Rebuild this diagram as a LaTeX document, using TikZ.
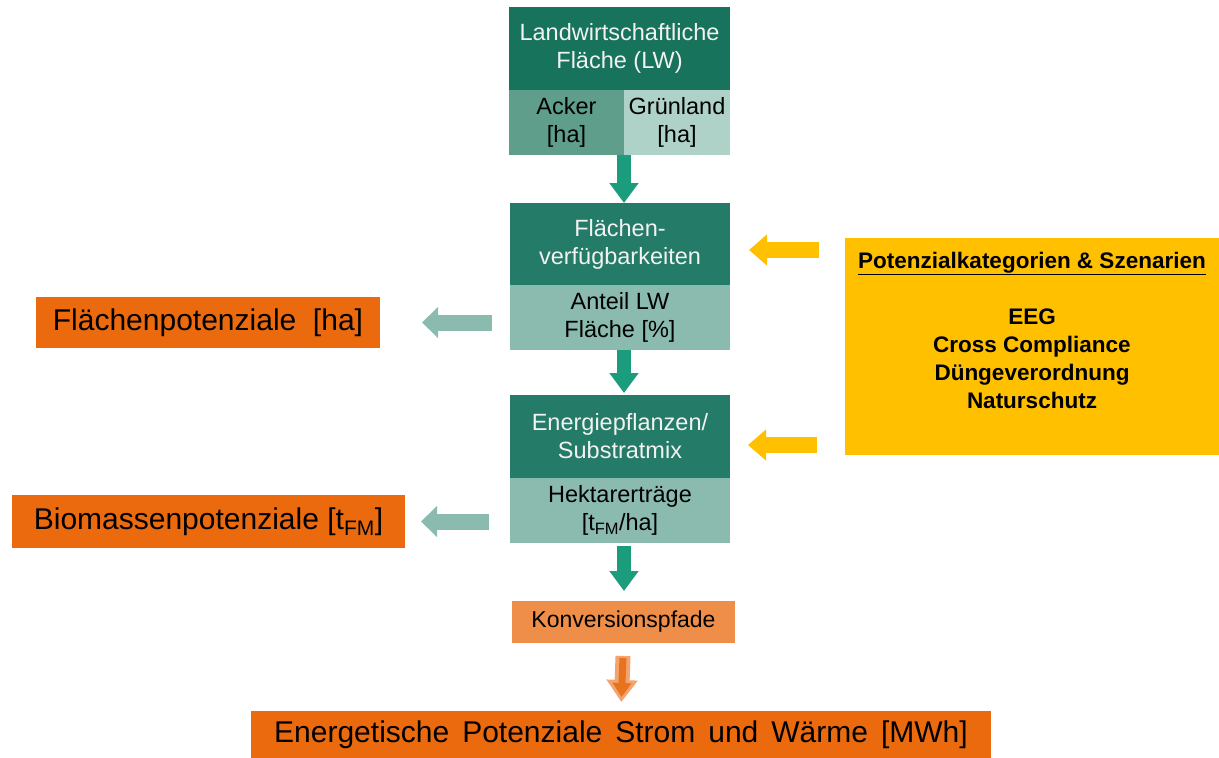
\documentclass[tikz,border=0pt]{standalone}
\usepackage{fontspec}
\setmainfont{Liberation Sans}
\usetikzlibrary{arrows.meta}
\definecolor{lwdark}{HTML}{17735C}
\definecolor{boxdark}{HTML}{247B68}
\definecolor{boxlight}{HTML}{8ABBAE}
\definecolor{acker}{HTML}{5E9E8A}
\definecolor{gruen}{HTML}{AED2C7}
\definecolor{tealarr}{HTML}{1A9C7D}
\definecolor{gelb}{HTML}{FFC000}
\definecolor{potorange}{HTML}{EB6A0E}
\definecolor{konvorange}{HTML}{EE8E48}
\definecolor{arrorange}{HTML}{F3A36B}
\definecolor{arrorangein}{HTML}{E8731F}
\definecolor{hell}{HTML}{F2F2F2}

\begin{document}
\begin{tikzpicture}[x=1pt,y=-1pt,
    box/.style={anchor=north west,inner sep=0pt,outer sep=0pt,align=center,font=\fontsize{23.5}{28}\selectfont},
    darkbox/.style={box,fill=boxdark,text=hell,minimum width=220pt,minimum height=82pt},
    lightbox/.style={box,fill=boxlight,text=black,minimum width=220pt,minimum height=65pt},
    potbox/.style={box,fill=potorange,text=black,font=\fontsize{30}{34}\selectfont},
    tealarrow/.style={draw=tealarr,line width=14pt,-{Triangle[length=20pt,width=28pt]}},
    lightarrow/.style={draw=boxlight,line width=16pt,-{Triangle[length=16pt,width=30pt]}},
    yellowarrow/.style={draw=gelb,line width=16pt,-{Triangle[length=18pt,width=30pt]}}]
\useasboundingbox (0,0) rectangle (1219,758);

		  \node[box,fill=lwdark,text=hell,minimum width=221pt,minimum height=83pt] (lw) at (509,7) {Landwirtschaftliche\\Fläche (LW)};
		  \node[box,fill=acker,minimum width=115pt,minimum height=65pt] (acker) at (509,90) {Acker\\{[ha]}};
		  \node[box,fill=gruen,minimum width=106pt,minimum height=65pt] (gruenland) at (624,90) {Grünland\\{[ha]}};

                  \node[darkbox] (flaechen) at (510,203) {Flächen-\\verfügbarkeiten};
                  \node[lightbox] (anteil) at (510,285) {Anteil LW\\Fläche [\%]};
                  \node[darkbox,minimum height=83pt] (energie) at (510,395) {Energiepflanzen/\\Substratmix};
                  \node[lightbox] (hektar) at (510,478) {Hektarerträge\\{[t\textsubscript{FM}/ha]}};

                  \node[box,fill=konvorange,minimum width=223pt,minimum height=42pt,font=\fontsize{23}{26}\selectfont] (konv) at (512,601) {Konversionspfade};
                  \node[potbox,minimum width=740pt,minimum height=47pt] (energetisch) at (251,711) {\spaceskip=13pt\relax Energetische Potenziale Strom und Wärme [MWh]};
                  \node[potbox,minimum width=344pt,minimum height=51pt] (flpot) at (36,297) {Flächenpotenziale \ [ha]};
                  \node[potbox,minimum width=393pt,minimum height=53pt] (biopot) at (12,495) {Biomassenpotenziale [t\textsubscript{FM}]};

                  \node[box,fill=gelb,minimum width=374pt,minimum height=217pt] (szen) at (845,238) {};
                  \node[anchor=north,inner sep=0pt,align=center,font=\fontsize{22.5}{28}\selectfont\bfseries] (szentext) at ([yshift=-14pt]szen.north) {\underline{Potenzialkategorien \& Szenarien}\\[28pt]EEG\\Cross Compliance\\Düngeverordnung\\Naturschutz};

                  \coordinate (flin) at ([yshift=-6pt]flaechen.east);
                  \coordinate (enin) at ([yshift=-8.5pt]energie.east);

		  \draw[tealarrow] (acker.south east) -- (acker.south east |- flaechen.north);
		  \draw[tealarrow,shorten >=2pt] (acker.south east |- anteil.south) -- (acker.south east |- energie.north);
		  \draw[tealarrow,shorten <=3pt,shorten >=10pt] (acker.south east |- hektar.south) -- (acker.south east |- konv.north);

		  \draw[draw=arrorange,line width=15pt,-{Triangle[length=22pt,width=30pt]},shorten <=13pt,shorten >=9pt] (konv.south) -- (energetisch.north);
		  \draw[draw=arrorangein,line width=7pt,-{Triangle[length=14pt,width=18pt]},shorten <=15pt,shorten >=14pt] (konv.south) -- (energetisch.north);

		  \draw[lightarrow,shorten <=18pt,shorten >=42pt] (anteil.west |- flpot.east) -- (flpot.east);
		  \draw[lightarrow,shorten <=21pt,shorten >=16pt] (hektar.west |- biopot.east) -- (biopot.east);

		  \draw[yellowarrow,shorten <=26pt,shorten >=19pt] (szen.west |- flin) -- (flin);
		  \draw[yellowarrow,shorten <=28pt,shorten >=18pt] (szen.west |- enin) -- (enin);
		\end{tikzpicture}
\end{document}
